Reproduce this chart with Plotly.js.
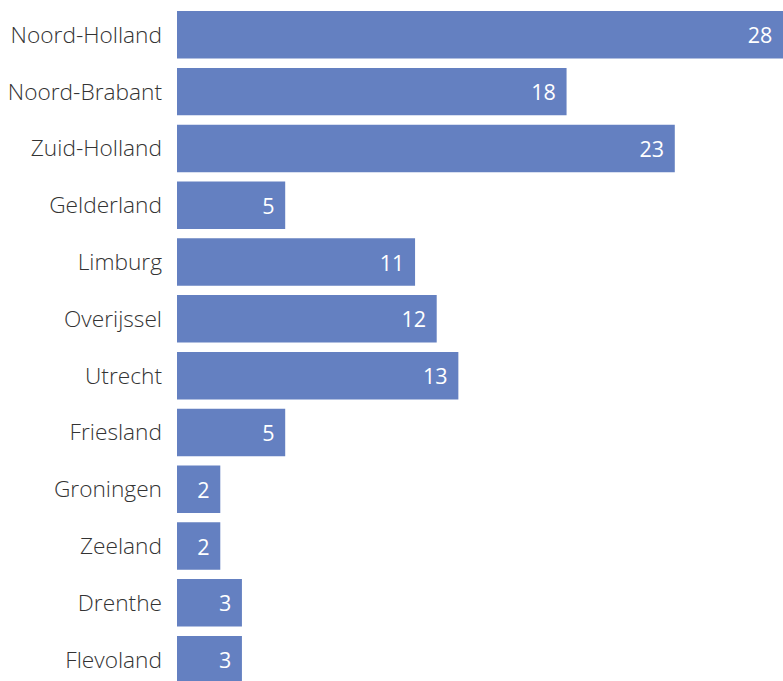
<!DOCTYPE html>
<html><head><meta charset="utf-8">
<script src="https://cdn.plot.ly/plotly-3.0.1.min.js"></script>
<style>html,body{margin:0;padding:0;background:#fff}#chart{width:783px;height:681px}</style>
</head><body><div id="chart"></div>
<script>
const provinces = ["Noord-Holland","Noord-Brabant","Zuid-Holland","Gelderland","Limburg","Overijssel","Utrecht","Friesland","Groningen","Zeeland","Drenthe","Flevoland"];
const counts = [28,18,23,5,11,12,13,5,2,2,3,3];

const trace = {
  type: 'bar', orientation: 'h',
  x: counts, y: provinces,
  marker: {color: '#6480c1'},
  text: counts.map(v => v + '\u00a0\u200a'),
  textposition: 'inside', insidetextanchor: 'end',
  textfont: {color: '#ffffff', size: 21.5, family: 'Open Sans', weight: 400},
  hoverinfo: 'none', cliponaxis: false
};
const layout = {
  width: 783, height: 681,
  margin: {l: 177, r: 0, t: 0, b: 0},
  paper_bgcolor: '#fff', plot_bgcolor: '#fff',
  bargap: 0.164,
  showlegend: false,
  xaxis: {range: [0, 28], visible: false, fixedrange: true},
  yaxis: {type: 'category', range: [11.376, -0.613], showgrid: false, zeroline: false, showline: false,
          ticks: '', ticklabelstandoff: 14,
          tickfont: {family: 'Open Sans', size: 22.7, color: '#333333', weight: 300}},
  font: {family: 'Open Sans'}
};
Plotly.newPlot('chart', [trace], layout, {staticPlot: true, displayModeBar: false});
</script></body></html>
